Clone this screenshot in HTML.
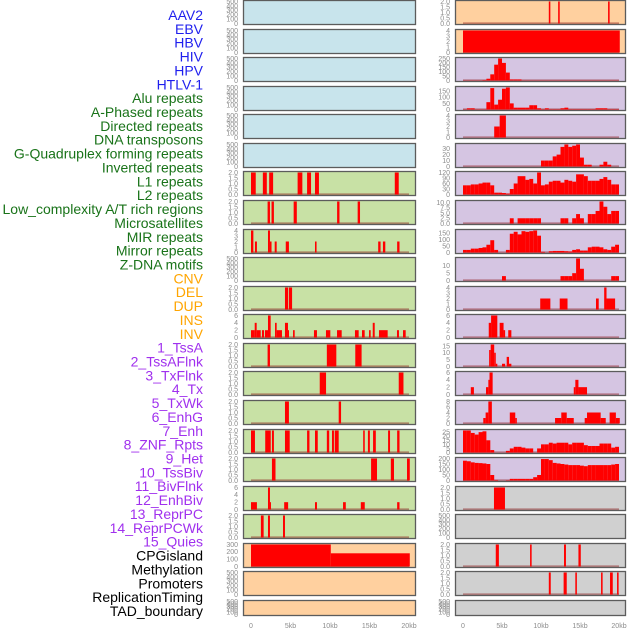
<!DOCTYPE html>
<html><head><meta charset="utf-8"><style>
html,body{margin:0;padding:0;background:#fff;width:630px;height:630px;overflow:hidden}
svg{display:block;font-family:"Liberation Sans",sans-serif}
</style></head><body>
<svg id="chart" width="630" height="630" viewBox="0 0 630 630" xmlns="http://www.w3.org/2000/svg">
<g id="labels"></g>
<g id="panels"></g>
<g id="xaxes"></g>
</svg>
<script>
// ---------- data ----------
const trackLabels = ["AAV2","EBV","HBV","HIV","HPV","HTLV-1","Alu repeats","A-Phased repeats","Directed repeats","DNA transposons","G-Quadruplex forming repeats","Inverted repeats","L1 repeats","L2 repeats","Low_complexity A/T rich regions","Microsatellites","MIR repeats","Mirror repeats","Z-DNA motifs","CNV","DEL","DUP","INS","INV","1_TssA","2_TssAFlnk","3_TxFlnk","4_Tx","5_TxWk","6_EnhG","7_Enh","8_ZNF_Rpts","9_Het","10_TssBiv","11_BivFlnk","12_EnhBiv","13_ReprPC","14_ReprPCWk","15_Quies","CPGisland","Methylation","Promoters","ReplicationTiming","TAD_boundary"];
const labelGroups = [6,13,5,15,5];
const xTickValues = [0,5,10,15,20];
const xTickLabels = ["0","5kb","10kb","15kb","20kb"];

const ticksEmpty = ["0","100","200","300","400","500"];
const ticks2 = ["0.0","0.5","1.0","1.5","2.0"];
const ticks4 = ["0","1","2","3","4"];
const ticks6 = ["0","2","4","6"];
const ticks8 = ["0","2","4","6","8"];

// left column segments [startKb, endKb, value]
const l6Segs = [[0,0.6,2],[1.5,2.0,2],[2.3,2.8,2],[5.9,6.5,2],[7.1,7.6,2],[8.1,8.6,2],[18.2,18.7,2]];
const l7Segs = [[2.1,2.4,2],[2.6,2.9,2],[5.4,5.8,2],[10.9,11.2,2],[13.5,13.8,2]];
const l8Segs = [[0,0.3,4],[0.5,0.75,2],[2.15,2.4,4],[2.4,2.6,2],[3.0,3.25,2],[4.4,4.8,2],[8.1,8.3,2],[16.1,16.4,2],[16.7,17.0,2],[18.5,18.8,2]];
const l10Segs = [[4.3,4.7,2],[4.8,5.2,2]];
const l11Segs = [[0,0.47,2],[0.47,0.72,4],[0.72,1.23,2],[1.39,1.65,2],[1.77,2.15,2],[2.15,2.49,6],[3.04,3.25,4],[3.25,3.92,2],[4.3,4.68,4],[4.68,4.81,2],[5.32,5.53,2],[7.97,8.35,2],[9.49,10.04,2],[10.89,11.48,2],[13.16,13.63,2],[14.05,14.39,2],[14.94,15.15,2],[15.41,15.66,4],[16.2,17.3,2],[18.48,18.73,2],[19.24,19.58,2]];
const l12Segs = [[2.1,2.4,2],[9.6,10.8,2],[13.2,14.0,2]];
const l13Segs = [[8.7,9.5,2],[18.7,19.3,2]];
const l14Segs = [[4.3,4.8,2],[11.1,11.4,2]];
const l15Segs = [[0,0.5,2],[1.8,2.5,2],[2.65,2.9,2],[4.3,4.9,2],[7.1,7.4,2],[8.1,8.45,2],[9.6,9.9,2],[10.25,10.5,2],[10.6,11.1,2],[14.2,14.4,2],[14.8,15.05,2],[15.45,15.8,2],[17.35,17.6,2],[18.5,18.8,2]];
const l16Segs = [[2.65,3.1,2],[15.2,15.95,2],[17.7,18.1,2],[19.75,20.1,2]];
const l17Segs = [[0,0.75,2],[2.15,2.4,6],[2.4,2.5,2],[4.2,4.7,2],[8.1,8.35,2],[11.65,12.0,2],[13.9,14.4,2],[18.5,18.8,2]];
const l18Segs = [[1.25,1.6,2],[2.15,2.4,2],[4.05,4.3,2]];
const l19Segs = [[0,10.1,300],[10.1,20.1,180]];

// right column: segments and 0.5kb bins (40 bins, 0-20kb)
const r0Segs = [[11.0,11.2,2],[12.2,12.4,2],[18.6,18.8,2]];
const r1Segs = [[0,20.1,4]];
const r2Bins = [2,2,2,2,2,5,20,70,180,250,200,90,12,12,12,2,2,2,2,2,2,2,2,2,2,2,2,2,2,2,2,2,2,2,2,2,2,2,2,2];
const r3Bins = [2,10,10,2,2,2,60,175,40,80,170,180,50,15,15,15,15,35,35,10,3,10,3,3,3,10,15,3,3,3,3,3,3,3,10,10,10,3,3,3];
const r4Segs = [[4.0,4.7,2],[4.7,5.5,4]];
const r5Bins = [0,0,0,0,0,0,0,0,0,0,0,0,0,0,0,0,0,0,0,0,10,10,10,17,20,33,37,33,35,37,15,3,3,0,0,3,8,3,0,0];
const r6Bins = [50,50,55,55,60,65,65,50,10,10,8,5,30,60,100,100,80,85,60,120,50,55,70,75,75,65,80,75,70,110,110,100,75,75,75,85,95,80,55,55];
const r7Bins = [0,0,0,0,0,0,0,0,0,0,0,0,2.5,0,2.5,2.5,2.5,2.5,2.5,2.5,0,0,0,0,0,2.5,2.5,0,2.5,4.5,2.5,0,4.5,4.5,6,10.5,8,4.5,6,6];
const r8Bins = [20,20,30,30,35,40,60,95,20,0,0,20,145,160,140,165,160,165,170,130,5,0,10,12,12,12,10,8,20,25,15,15,40,45,45,40,25,20,45,60];
const r9Bins = [0,0,0,0,0,0,0,0,0,0,3,0,0,0,0,0,0,0,0,0,0,0,0,0,0,3,3,3,5,15,8,0,0,0,0,0,0,0,3,3];
const r10Segs = [[9.9,11.2,2],[12.4,13.4,2],[17.05,17.4,2],[18.1,18.4,4],[18.4,19.5,2]];
const r11Segs = [[3.3,3.6,4],[3.6,4.4,6],[4.7,5.2,4],[5.2,5.4,2],[5.8,6.2,2]];
const r12Segs = [[3.35,3.55,12],[3.55,4.0,16],[4.0,4.2,10],[4.2,4.4,2],[5.0,5.4,2],[5.6,5.9,7],[5.9,6.2,2]];
const r13Segs = [[1.0,1.4,2],[2.95,3.25,2],[3.25,3.4,4],[3.4,3.8,6],[14.2,14.4,2],[14.4,14.8,4],[14.8,15.9,2]];
const r14Segs = [[2.6,2.9,2],[2.9,3.25,4],[3.25,3.7,8],[6.0,6.7,4],[6.7,6.9,2],[11.8,12.6,2],[12.6,13.3,4],[13.3,14.2,2],[15.6,15.9,2],[15.9,17.65,4],[17.65,18.3,2],[18.8,19.6,4],[19.6,20.1,2]];
const r15Bins = [27,27,24,22,25,26,15,3,0,0,0,2,5,7,7,6,5,5,0,5,10,10,12,11,12,12,12,10,12,12,12,9,8,8,8,11,11,11,6,7];
const r16Bins = [180,175,165,160,158,155,150,50,5,0,0,3,15,15,15,15,15,15,30,50,195,195,185,160,155,150,145,140,140,140,135,130,140,140,140,140,140,140,145,150];
const r17Segs = [[3.97,5.38,2]];
const r19Segs = [[4.2,4.6,2],[8.6,8.8,2],[12.95,13.2,2],[14.8,15.1,2]];
const r20Segs = [[11.0,11.25,2],[12.9,13.3,2],[14.4,14.6,2],[17.7,17.9,2],[18.85,19.2,2],[19.75,19.95,2]];

// ---------- layout ----------
const NS = "http://www.w3.org/2000/svg";
const C = {blue:"#c8e4ec", green:"#c8e1a5", orange:"#ffd09f", purple:"#d5c5e2", grey:"#d0d0d0"};
const labelColors = ["#1f1fee","#197319","#ffa500","#a030ee","#000000"];
const cols = [
  {x0:243, x1:416, zero:251, pxPerKb:7.9, tickRight:238},
  {x0:455, x1:626, zero:463, pxPerKb:7.8, tickRight:450}
];
function rowTop(i){ return i===21 ? 600 : Math.round(i*28.57); }
function rowH(i){ return i===21 ? 16 : 25; }
function xScale(col, kb){ return cols[col].zero + kb*cols[col].pxPerKb; }

const leftSpec = [];
for(let i=0;i<6;i++) leftSpec.push({bg:C.blue, ticks:ticksEmpty});
const leftRest = [
  {bg:C.green, ticks:ticks2, segs:l6Segs},
  {bg:C.green, ticks:ticks2, segs:l7Segs},
  {bg:C.green, ticks:ticks4, segs:l8Segs},
  {bg:C.green, ticks:ticksEmpty},
  {bg:C.green, ticks:ticks2, segs:l10Segs},
  {bg:C.green, ticks:ticks6, segs:l11Segs},
  {bg:C.green, ticks:ticks2, segs:l12Segs},
  {bg:C.green, ticks:ticks2, segs:l13Segs},
  {bg:C.green, ticks:ticks2, segs:l14Segs},
  {bg:C.green, ticks:ticks2, segs:l15Segs},
  {bg:C.green, ticks:ticks2, segs:l16Segs},
  {bg:C.green, ticks:ticks6, segs:l17Segs},
  {bg:C.green, ticks:ticks2, segs:l18Segs},
  {bg:C.orange, ticks:["0","100","200","300"], segs:l19Segs},
  {bg:C.orange, ticks:ticksEmpty},
  {bg:C.orange, ticks:ticksEmpty}
];
leftRest.forEach(s=>leftSpec.push(s));
const rightSpec = [
  {bg:C.orange, ticks:ticks2, segs:r0Segs},
  {bg:C.orange, ticks:ticks4, segs:r1Segs},
  {bg:C.purple, ticks:["0","50","100","150","200","250"], bins:r2Bins},
  {bg:C.purple, ticks:["0","50","100","150"], bins:r3Bins},
  {bg:C.purple, ticks:ticks4, segs:r4Segs},
  {bg:C.purple, ticks:["0","10","20","30"], bins:r5Bins},
  {bg:C.purple, ticks:["0","30","60","90","120"], bins:r6Bins},
  {bg:C.purple, ticks:["0.0","2.5","5.0","7.5","10.0"], bins:r7Bins},
  {bg:C.purple, ticks:["0","50","100","150"], bins:r8Bins},
  {bg:C.purple, ticks:["0","5","10"], bins:r9Bins},
  {bg:C.purple, ticks:ticks4, segs:r10Segs},
  {bg:C.purple, ticks:ticks6, segs:r11Segs},
  {bg:C.purple, ticks:["0","5","10","15"], segs:r12Segs},
  {bg:C.purple, ticks:ticks6, segs:r13Segs},
  {bg:C.purple, ticks:ticks8, segs:r14Segs},
  {bg:C.purple, ticks:["0","5","10","15","20","25"], bins:r15Bins},
  {bg:C.purple, ticks:["0","50","100","150","200"], bins:r16Bins},
  {bg:C.grey, ticks:ticks2, segs:r17Segs},
  {bg:C.grey, ticks:ticksEmpty},
  {bg:C.grey, ticks:ticks2, segs:r19Segs},
  {bg:C.grey, ticks:ticks2, segs:r20Segs},
  {bg:C.grey, ticks:ticksEmpty}
];

function mk(tag, attrs){ const e=document.createElementNS(NS,tag); for(const k in attrs) e.setAttribute(k,attrs[k]); return e; }

// labels
const gl = document.getElementById("labels");
let gi=0, cnt=0;
trackLabels.forEach((t,i)=>{
  while(cnt>=labelGroups[gi]){ gi++; cnt=0; }
  cnt++;
  const tx = mk("text",{x:203, y:(15+i*13.86+5).toFixed(1), "text-anchor":"end", "font-size":"14", fill:labelColors[gi]});
  
  
  tx.textContent = t;
  gl.appendChild(tx);
});

// panels
const gp = document.getElementById("panels");
function drawPanel(col, row, spec){
  const c = cols[col], top=rowTop(row), h=rowH(row);
  const g = mk("g",{});
  
  
  gp.appendChild(g);
  const bg = mk("rect",{x:c.x0+0.5, y:top+0.5, width:c.x1-c.x0-1, height:h-1, fill:spec.bg});
  
  
  g.appendChild(bg);
  let vals = [];
  if(spec.segs) spec.segs.forEach(s=>vals.push(s[2]));
  if(spec.bins) spec.bins.forEach(v=>vals.push(v));
  const tickMax = parseFloat(spec.ticks[spec.ticks.length-1]);
  const ymax = Math.max(tickMax, ...(vals.length?vals:[0]));
  const y = v => top+1.5 + (1 - v/ymax)*(h-3);
  const hasData = !!(spec.segs || spec.bins);
  if(hasData){
    const base = mk("line",{x1:xScale(col,0), x2:xScale(col,20), y1:y(0)-0.3, y2:y(0)-0.3, stroke:"rgba(140,20,20,0.45)", "stroke-width":1.6});
    
    
    g.appendChild(base);
  }
  const bars = [];
  if(spec.segs) spec.segs.forEach(s=>bars.push(s));
  if(spec.bins) spec.bins.forEach((v,i)=>{ if(v>0) bars.push([i*0.5,(i+1)*0.5,v]); });
  bars.forEach(b=>{
    const x0=xScale(col,b[0]), x1=xScale(col,b[1]);
    const r = mk("rect",{x:x0.toFixed(2), y:y(b[2]).toFixed(2), width:Math.max(1,x1-x0).toFixed(2), height:(y(0)-y(b[2])).toFixed(2), fill:"#ff0000"});
    
    
    g.appendChild(r);
  });
  const border = mk("rect",{x:c.x0+0.5, y:top+0.5, width:c.x1-c.x0-1, height:h-1, fill:"none", stroke:"#5c5c5c", "stroke-width":1.3});
  
  
  g.appendChild(border);
  spec.ticks.forEach(t=>{
    const tt = mk("text",{x:c.tickRight, y:(y(parseFloat(t))+2.4).toFixed(1), "text-anchor":"end", "font-size":"7", fill:"#8c8c8c"});
    
    
    tt.textContent = t;
    g.appendChild(tt);
  });
}
leftSpec.forEach((s,i)=>drawPanel(0,i,s));
rightSpec.forEach((s,i)=>drawPanel(1,i,s));

// x axes
const gx = document.getElementById("xaxes");
[0,1].forEach(col=>{
  xTickValues.forEach((v,i)=>{
    const t = mk("text",{x:xScale(col,v).toFixed(1), y:628, "text-anchor":"middle", "font-size":"7", fill:"#8c8c8c"});
    
    
    t.textContent = xTickLabels[i];
    gx.appendChild(t);
  });
});
</script>
</body></html>
